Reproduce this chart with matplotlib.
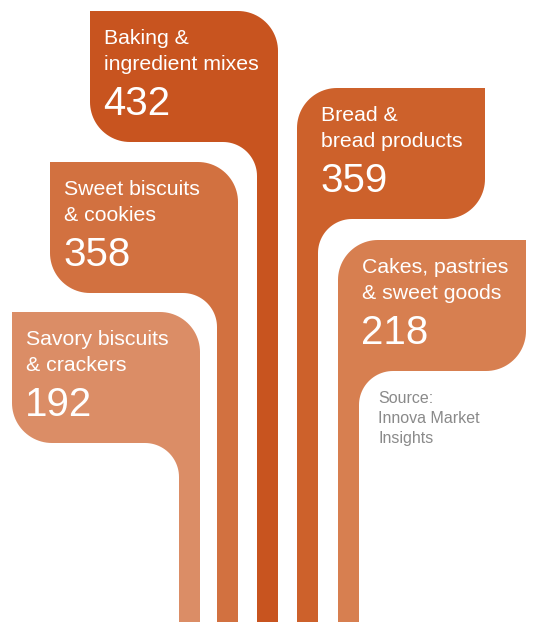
import numpy as np
import matplotlib.pyplot as plt

plt.rcParams['font.family'] = ['Liberation Sans', 'DejaVu Sans']

categories = ['Savory biscuits\n& crackers', 'Sweet biscuits\n& cookies',
              'Baking &\ningredient mixes', 'Bread &\nbread products',
              'Cakes, pastries\n& sweet goods']
values = [192, 358, 432, 359, 218]
colors = ['#DB8D66', '#D27140', '#C8541F', '#CD612B', '#D77F50']

# leaf layout: left edge, top edge, which side the stem hangs from
box_left = [12, 50, 90, 297, 338]
box_top = [312, 162, 11, 88, 240]
stem_side = ['right', 'right', 'right', 'left', 'left']

source_lines = ['Source:', 'Innova Market', 'Insights']

W, H = 533, 622
BOX_W, BOX_H = 188, 131
STEM = 21
R = 40      # rounded leaf corners
F = 34      # fillet where the leaf meets the stem


def arc(cx, cy, rad, a0, a1, n=24):
    a = np.radians(np.linspace(a0, a1, n))
    return list(zip(cx + rad * np.cos(a), cy + rad * np.sin(a)))


def leaf(x0, y0, side):
    x1, y1 = x0 + BOX_W, y0 + BOX_H
    pts = [(x0, y0)]
    pts += arc(x1 - R, y0 + R, R, -90, 0)
    pts += [(x1, H), (x1 - STEM, H)]
    pts += arc(x1 - STEM - F, y1 + F, F, 0, -90)
    pts += arc(x0 + R, y1 - R, R, 90, 180)
    xs = np.array([p[0] for p in pts])
    ys = np.array([p[1] for p in pts])
    if side == 'left':
        xs = x0 + x1 - xs
    return xs, ys


fig = plt.figure(figsize=(5.33, 6.22), dpi=100)
ax = fig.add_axes([0, 0, 1, 1])
ax.set_xlim(0, W)
ax.set_ylim(H, 0)
ax.axis('off')

for cat, val, col, x0, y0, side in zip(categories, values, colors,
                                       box_left, box_top, stem_side):
    xs, ys = leaf(x0, y0, side)
    ax.fill(xs, ys, color=col, lw=0)
    tx = x0 + 14 if side == 'right' else x0 + 24
    for i, line in enumerate(cat.split('\n')):
        ax.text(tx, y0 + 33 + 26 * i, line, color='white', fontsize=15.3,
                va='baseline', ha='left')
    ax.text(tx - 1, y0 + 104, str(val), color='white', fontsize=29,
            va='baseline', ha='left')

for i, line in enumerate(source_lines):
    ax.text(378, 403 + 20 * i, line, color='#8a8a8a', fontsize=11.5,
            va='baseline', ha='left')

fig.savefig('out.png', dpi=100)
